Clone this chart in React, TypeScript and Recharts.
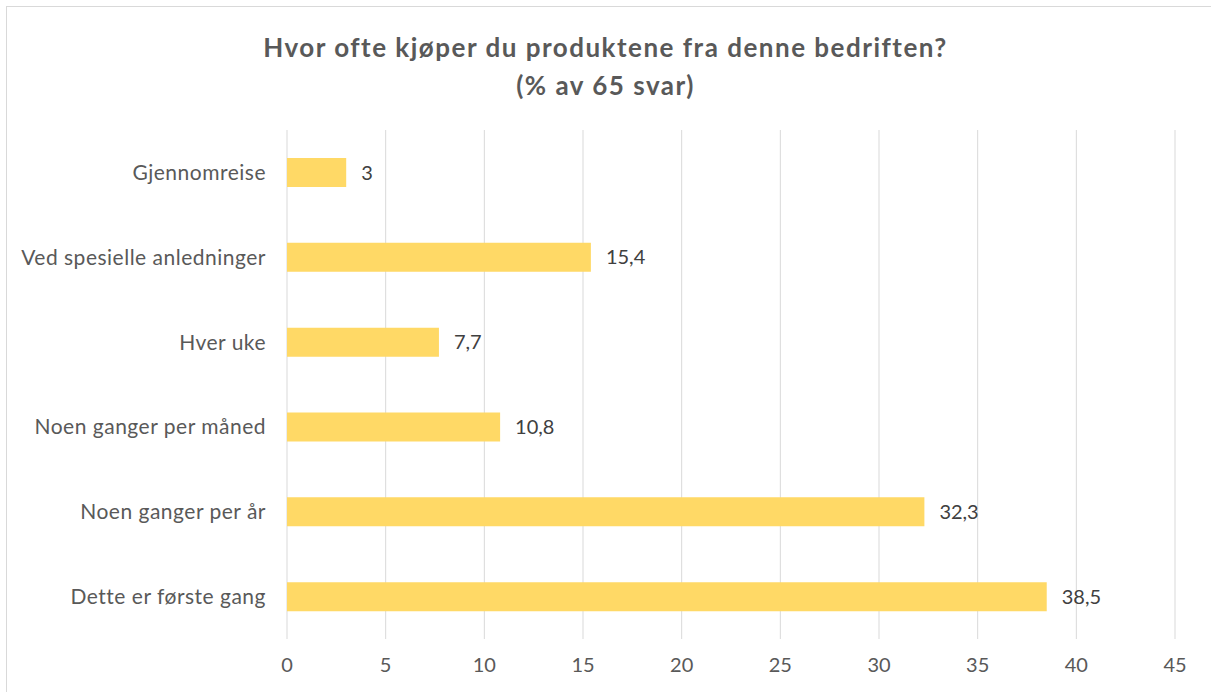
import { BarChart, Bar, XAxis, YAxis, CartesianGrid, LabelList } from 'recharts';

const categories = [
  'Gjennomreise',
  'Ved spesielle anledninger',
  'Hver uke',
  'Noen ganger per måned',
  'Noen ganger per år',
  'Dette er første gang',
];
const percentages = [3, 15.4, 7.7, 10.8, 32.3, 38.5];
const xTicks = [0, 5, 10, 15, 20, 25, 30, 35, 40, 45];

const data = categories.map((name, i) => ({ name, value: percentages[i] }));

const FONT = 'Lato, "Open Sans", sans-serif';
const GREY = '#595959';

function formatValue(v: number): string {
  return String(v).replace('.', ',');
}

export default function App() {
  return (
    <div style={{ position: 'absolute', left: 0, top: 0, width: 1211, height: 692, background: '#fff', overflow: 'hidden', fontFamily: FONT }}>
      <div style={{ position: 'absolute', left: 6, top: 6, width: 1230, height: 720, border: '1px solid #d9d9d9' }} />
      <div
        style={{
          position: 'absolute',
          left: 0,
          top: 28,
          width: 1211,
          textAlign: 'center',
          color: GREY,
          fontWeight: 700,
          fontSize: 26,
          letterSpacing: 1.5,
          lineHeight: '38px',
        }}
      >
        <div>Hvor ofte kjøper du produktene fra denne bedriften?</div>
        <div>(% av 65 svar)</div>
      </div>
      <div style={{ position: 'absolute', left: 0, top: 0 }}>
        <BarChart
          width={1211}
          height={692}
          data={data}
          layout="vertical"
          margin={{ top: 130, right: 36, bottom: 8, left: 0 }}
          barSize={29}
        >
          <CartesianGrid horizontal={false} stroke="#d9d9d9" />
          <XAxis
            type="number"
            domain={[0, 45]}
            ticks={xTicks}
            axisLine={false}
            tickLine={false}
            tickSize={0}
            tickMargin={19}
            height={45}
            tick={{ fontSize: 20, fill: GREY, fontFamily: FONT }}
          />
          <YAxis
            type="category"
            dataKey="name"
            width={287}
            axisLine={false}
            tickLine={false}
            tickSize={0}
            tickMargin={21}
            tick={{ fontSize: 21, fill: GREY, fontFamily: FONT, letterSpacing: 0.5 }}
          />
          <Bar dataKey="value" fill="#ffd966" isAnimationActive={false}>
            <LabelList
              dataKey="value"
              position="right"
              offset={15}
              formatter={(v: number) => formatValue(v)}
              style={{ fontSize: 20, fill: '#404040', fontFamily: FONT }}
            />
          </Bar>
        </BarChart>
      </div>
    </div>
  );
}
